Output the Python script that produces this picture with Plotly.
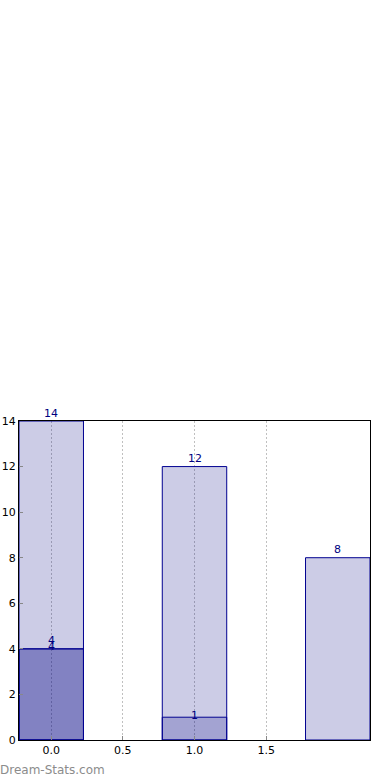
import plotly.graph_objects as go

x_pos = [0, 1, 2]
series_a = [14, 12, 8]
series_b = [4, 1]
series_c = [4]
x_ticks = [0.0, 0.5, 1.0, 1.5]
x_tick_labels = ["0.0", "0.5", "1.0", "1.5"]
y_ticks = [0, 2, 4, 6, 8, 10, 12, 14]

fill = "rgba(0,0,128,0.2)"
edge = "#000090"
label_color = "#000080"

fig = go.Figure()
annotations = []
for vals, shift in [(series_a, 8), (series_b, 2), (series_c, 8)]:
    xs = x_pos[:len(vals)]
    fig.add_trace(go.Bar(x=xs, y=vals, width=0.45, marker=dict(color=fill, line=dict(color=edge, width=1)),
                         showlegend=False, hoverinfo="skip"))
    for xv, yv in zip(xs, vals):
        annotations.append(dict(x=xv, y=yv, text=str(yv), showarrow=False, yanchor="middle", yshift=shift,
                                font=dict(family="DejaVu Sans", size=11, color=label_color)))

annotations.append(dict(xref="paper", yref="paper", x=-0.06, y=-0.094, xanchor="left", yanchor="middle",
                        text="Dream-Stats.com", showarrow=False,
                        font=dict(family="DejaVu Sans", size=12, color="#8c8c8c")))

fig.update_layout(
    width=390, height=780, barmode="overlay",
    margin=dict(l=19, r=20, t=421, b=40, autoexpand=False),
    plot_bgcolor="white", paper_bgcolor="white",
    font=dict(family="DejaVu Sans", size=11, color="black"),
    annotations=annotations,
    xaxis=dict(range=[-0.225, 2.225], tickvals=x_ticks, ticktext=x_tick_labels, automargin=False,
               showgrid=True, gridcolor="#c0c0c0", griddash="2px,2px", gridwidth=1,
               showline=True, linecolor="black", linewidth=1, mirror=True,
               ticks="inside", ticklen=4, tickcolor="#888888", zeroline=False),
    yaxis=dict(range=[0, 14], tickvals=y_ticks, showgrid=False, automargin=False,
               showline=True, linecolor="black", linewidth=1, mirror=True,
               ticks="inside", ticklen=4, tickcolor="#888888", zeroline=False),
)
fig.write_html("out.html", post_script="document.body.style.margin='0px';",
               config={"displayModeBar": False})
